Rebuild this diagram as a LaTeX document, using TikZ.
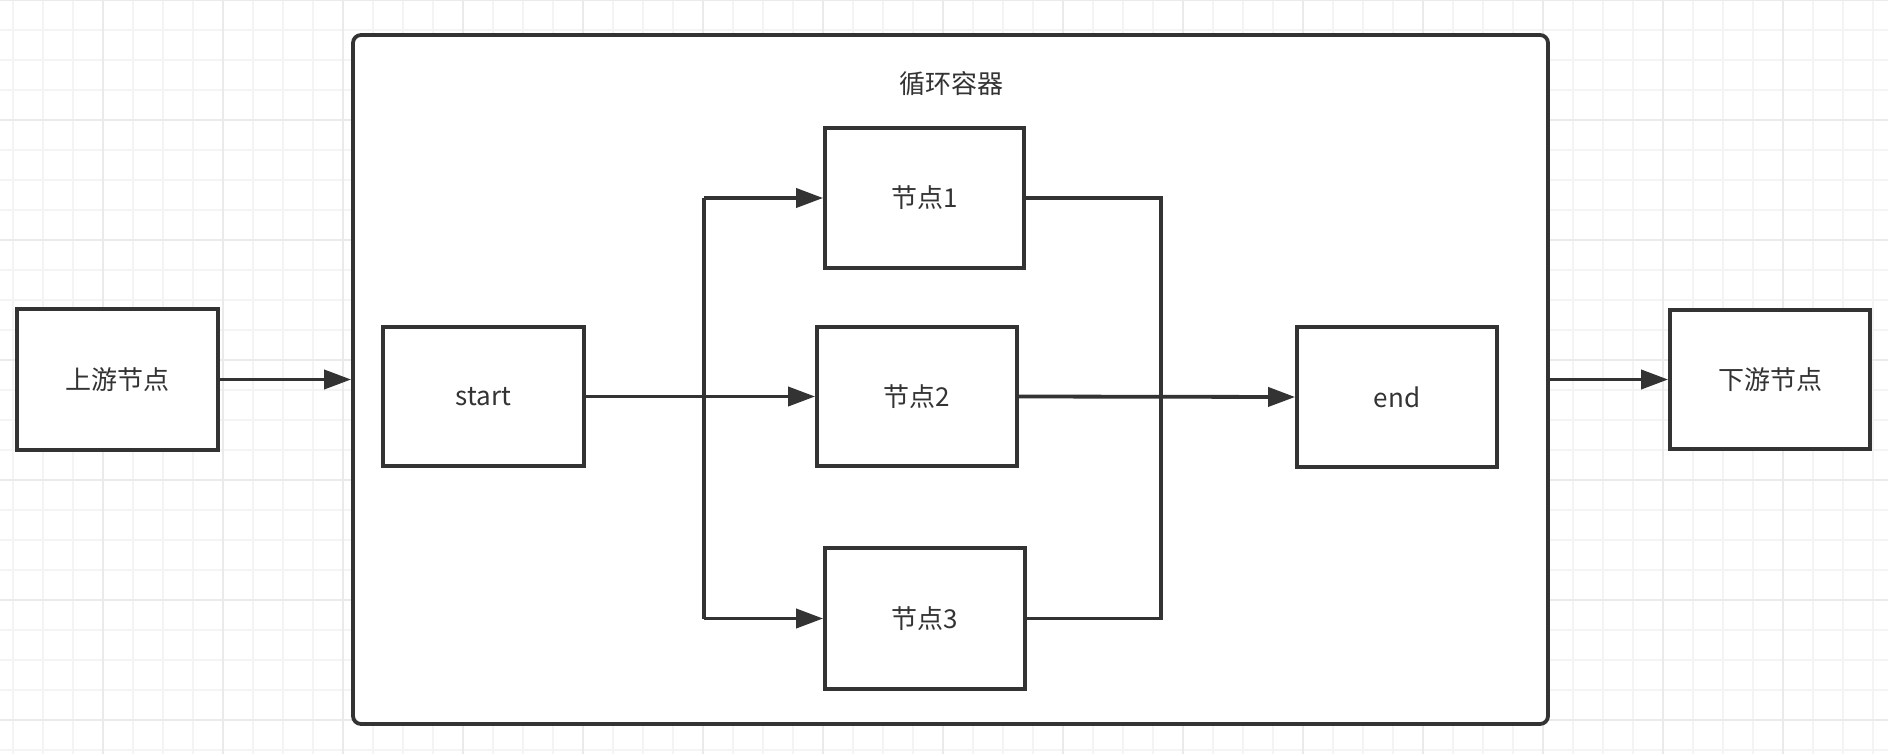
\documentclass[tikz,border=0pt]{standalone}
\usepackage{fontspec}
\setmainfont{Noto Sans CJK SC}
\usetikzlibrary{arrows.meta}
\definecolor{ink}{RGB}{51,51,51}
\definecolor{gridminor}{RGB}{244,244,244}
\definecolor{gridmajor}{RGB}{234,234,234}
\tikzset{
  lbl/.style={text=ink, font=\fontsize{26}{31}\selectfont},
  box/.style={lbl, draw=ink, line width=3.8pt, fill=white, inner sep=0pt},
  conn/.style={draw=ink, line width=3.8pt},
  arr/.style={conn, -{Triangle[length=27pt,width=19pt]}},
}
\begin{document}
\begin{tikzpicture}[x=1pt,y=-1pt]
\useasboundingbox (0,0) rectangle (1888,754);
\fill[white] (0,0) rectangle (1888,754);
% grid
\foreach \gx in {13,43,...,1888} \draw[gridminor, line width=1.6pt] (\gx,0) -- (\gx,754);
\foreach \gy in {0,30,...,754} \draw[gridminor, line width=1.6pt] (0,\gy) -- (1888,\gy);
\foreach \gx in {103,223,...,1888} \draw[gridmajor, line width=1.6pt] (\gx,0) -- (\gx,754);
\foreach \gy in {0,120,...,754} \draw[gridmajor, line width=1.6pt] (0,\gy) -- (1888,\gy);
% container
\node[box, rounded corners=8pt, minimum width=1195pt, minimum height=689pt] (loop) at (950.5,379.5) {};
\node[lbl] (title) at (951,84) {循环容器};
% outer nodes
\node[box, minimum width=201pt, minimum height=141pt] (up) at (117.5,379.5) {上游节点};
\node[box, minimum width=200pt, minimum height=139pt] (down) at (1770,379.5) {下游节点};
% inner nodes
\node[box, minimum width=201pt, minimum height=139pt] (start) at (483.5,396.5) {start};
\node[box, minimum width=199pt, minimum height=140pt] (n1) at (924.5,198) {节点1};
\node[box, minimum width=200pt, minimum height=139pt] (n2) at (917,396.5) {节点2};
\node[box, minimum width=200pt, minimum height=141pt] (n3) at (925,618.5) {节点3};
\node[box, minimum width=200pt, minimum height=140pt] (end) at (1397,397) {end};
\coordinate (split) at (704,397);
\coordinate (merge) at (1161,397);
% connectors
\draw[arr] (up.east) -- (up.east -| loop.west);
\draw[arr] (loop.east |- down.west) -- (down.west);
\draw[arr] (start.east) -- (n2.west);
\draw[conn] (split |- n1.west) -- (split |- n3.west);
\draw[arr] (split |- n1.west) -- (n1.west);
\draw[arr] (split |- n3.west) -- (n3.west);
\draw[conn] (n1.east) -- (n1.east -| merge) -- (n3.east -| merge) -- (n3.east);
\draw[arr] (n2.east) -- (end.west);
\end{tikzpicture}
\end{document}
